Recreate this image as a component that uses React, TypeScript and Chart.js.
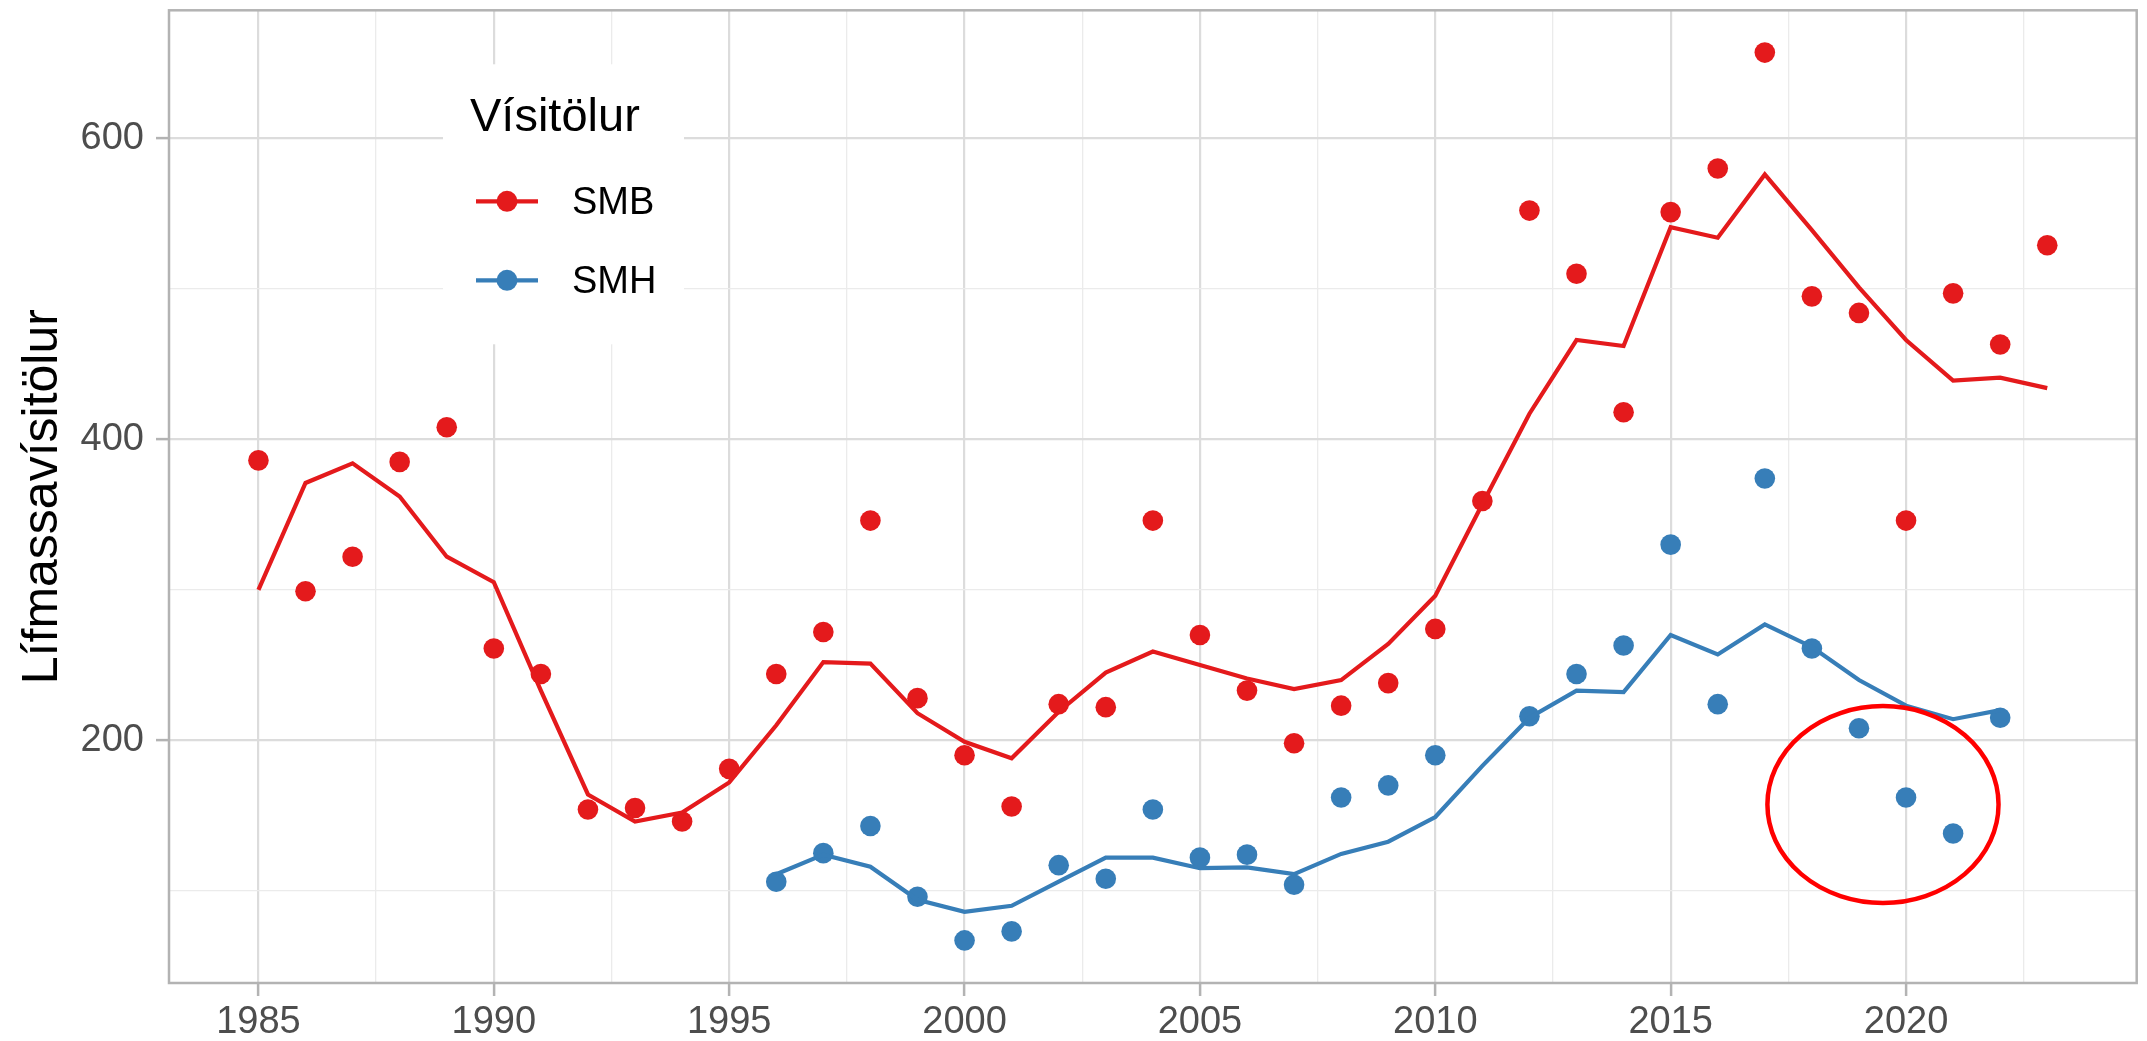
import { useEffect, useRef } from 'react';
import { Chart, registerables } from 'chart.js';

Chart.register(...registerables);

const FONT = '"Liberation Sans", Arial, Helvetica, sans-serif';

const years = [
  1985, 1986, 1987, 1988, 1989, 1990, 1991, 1992, 1993, 1994,
  1995, 1996, 1997, 1998, 1999, 2000, 2001, 2002, 2003, 2004,
  2005, 2006, 2007, 2008, 2009, 2010, 2011, 2012, 2013, 2014,
  2015, 2016, 2017, 2018, 2019, 2020, 2021, 2022, 2023,
];

// SMB index (points)
const smbPoints = [
  386, 299, 322, 385, 408, 261, 244, 154, 155, 146,
  181, 244, 272, 346, 228, 190, 156, 224, 222, 346,
  270, 233, 198, 223, 238, 274, 359, 552, 510, 418,
  551, 580, 657, 495, 484, 346, 497, 463, 529,
];

// SMB model line
const smbLine = [
  300, 371, 384, 362, 322, 305, 233, 164, 146, 152,
  172, 210, 252, 251, 218, 199, 188, 219, 245, 259,
  250, 241, 234, 240, 264, 296, 357, 417, 466, 462,
  541, 534, 576, 539, 501, 466, 439, 441, 434,
];

// SMH index (points)
const smhPoints = [
  null, null, null, null, null, null, null, null, null, null,
  null, 106, 125, 143, 96, 67, 73, 117, 108, 154,
  122, 124, 104, 162, 170, 190, null, 216, 244, 263,
  330, 224, 374, 261, 208, 162, 138, 215, null,
];

// SMH model line
const smhLine = [
  null, null, null, null, null, null, null, null, null, null,
  null, 111, 124, 116, 94, 86, 90, 106, 122, 122,
  115, 115.5, 111, 124.5, 132.6, 149, 183, 215, 233, 232,
  270, 257, 277, 262, 240, 223, 214, 220, null,
];

const xGridTicks = [
  1985, 1987.5, 1990, 1992.5, 1995, 1997.5, 2000, 2002.5, 2005, 2007.5,
  2010, 2012.5, 2015, 2017.5, 2020, 2022.5,
];
const yGridTicks = [100, 200, 300, 400, 500, 600];

const seriesNames = ['SMB', 'SMH'];
const seriesColors = ['#E41A1C', '#377EB8'];
const legendTitle = 'Vísitölur';
const yTitle = 'Lífmassavísitölur';

// highlight ellipse (data coordinates)
const ringCenter = { x: 2019.51, y: 157.3 };
const ringRadius = { x: 2.455, y: 65.4 };

const toXY = (arr: (number | null)[]) =>
  years
    .map((x, i) => ({ x, y: arr[i] }))
    .filter((p) => p.y !== null) as { x: number; y: number }[];

const overlayPlugin = {
  id: 'overlay',
  afterDraw(chart: any) {
    const { ctx, chartArea: a, scales } = chart;
    const xs = scales.x;
    const ys = scales.y;
    ctx.save();

    // highlight ellipse
    const cx = xs.getPixelForValue(ringCenter.x);
    const cy = ys.getPixelForValue(ringCenter.y);
    const rx = Math.abs(xs.getPixelForValue(ringCenter.x + ringRadius.x) - cx);
    const ry = Math.abs(ys.getPixelForValue(ringCenter.y + ringRadius.y) - cy);
    ctx.beginPath();
    ctx.ellipse(cx, cy, rx, ry, 0, 0, Math.PI * 2);
    ctx.strokeStyle = '#FF0000';
    ctx.lineWidth = 4.5;
    ctx.stroke();

    // panel border
    ctx.strokeStyle = '#B3B3B3';
    ctx.lineWidth = 2.5;
    ctx.strokeRect(a.left, a.top, a.right - a.left, a.bottom - a.top);

    // legend
    const lx = a.left + 274;
    const ly = a.top + 54;
    ctx.fillStyle = '#FFFFFF';
    ctx.fillRect(lx, ly, 241, 280);
    ctx.fillStyle = '#000000';
    ctx.textAlign = 'left';
    ctx.textBaseline = 'alphabetic';
    ctx.font = `47px ${FONT}`;
    ctx.fillText(legendTitle, lx + 27, ly + 67);
    seriesNames.forEach((name, i) => {
      const ky = ly + 137 + i * 79;
      ctx.strokeStyle = seriesColors[i];
      ctx.lineWidth = 4.2;
      ctx.beginPath();
      ctx.moveTo(lx + 33, ky);
      ctx.lineTo(lx + 95, ky);
      ctx.stroke();
      ctx.fillStyle = seriesColors[i];
      ctx.beginPath();
      ctx.arc(lx + 64, ky, 10.5, 0, Math.PI * 2);
      ctx.fill();
      ctx.fillStyle = '#000000';
      ctx.font = `38px ${FONT}`;
      ctx.fillText(name, lx + 129, ky + 13);
    });

    // y-axis title
    ctx.translate(57, (a.top + a.bottom) / 2);
    ctx.rotate(-Math.PI / 2);
    ctx.textAlign = 'center';
    ctx.font = `50px ${FONT}`;
    ctx.fillStyle = '#000000';
    ctx.fillText(yTitle, 0, 0);
    ctx.restore();
  },
};

export default function App() {
  const ref = useRef<HTMLCanvasElement>(null);
  useEffect(() => {
    const isMajorX = (v: number) => v % 5 === 0;
    const isMajorY = (v: number) => v % 200 === 0;
    const chart = new Chart(ref.current as HTMLCanvasElement, {
      type: 'scatter',
      data: {
        datasets: [
          {
            label: 'SMB line',
            data: toXY(smbLine),
            showLine: true,
            borderColor: seriesColors[0],
            borderWidth: 4.2,
            pointRadius: 0,
            fill: false,
          },
          {
            label: 'SMH line',
            data: toXY(smhLine),
            showLine: true,
            borderColor: seriesColors[1],
            borderWidth: 4.2,
            pointRadius: 0,
            fill: false,
          },
          {
            label: 'SMB',
            data: toXY(smbPoints),
            showLine: false,
            pointRadius: 10.3,
            pointBorderWidth: 0,
            backgroundColor: seriesColors[0],
            borderColor: seriesColors[0],
          },
          {
            label: 'SMH',
            data: toXY(smhPoints),
            showLine: false,
            pointRadius: 10.3,
            pointBorderWidth: 0,
            backgroundColor: seriesColors[1],
            borderColor: seriesColors[1],
          },
        ],
      },
      options: {
        responsive: false,
        animation: false,
        devicePixelRatio: 1,
        layout: { padding: { top: 9, right: 2, left: 0, bottom: 0 } },
        plugins: {
          legend: { display: false },
          tooltip: { enabled: false },
        },
        scales: {
          x: {
            type: 'linear',
            min: 1983.1,
            max: 2024.9,
            afterBuildTicks: (s: any) => {
              s.ticks = xGridTicks.map((v) => ({ value: v }));
            },
            afterFit: (s: any) => {
              s.height = 58;
              s.paddingLeft = 0;
              s.paddingRight = 0;
              s.paddingTop = 0;
              s.paddingBottom = 0;
            },
            border: { display: false },
            grid: {
              color: (c: any) => (c.tick && isMajorX(c.tick.value) ? '#DCDCDC' : '#EBEBEB'),
              lineWidth: (c: any) => (c.tick && isMajorX(c.tick.value) ? 2.2 : 1.3),
              tickLength: 13,
              tickColor: (c: any) => (c.tick && isMajorX(c.tick.value) ? '#B3B3B3' : 'rgba(0,0,0,0)'),
              tickWidth: 2.5,
            },
            ticks: {
              autoSkip: false,
              maxRotation: 0,
              minRotation: 0,
              padding: 4,
              color: '#4D4D4D',
              font: { size: 38, family: FONT },
              callback: (v: any) => (isMajorX(Number(v)) ? String(v) : ''),
            },
          },
          y: {
            type: 'linear',
            min: 38.7,
            max: 685.1,
            afterBuildTicks: (s: any) => {
              s.ticks = yGridTicks.map((v) => ({ value: v }));
            },
            afterFit: (s: any) => {
              s.width = 169;
              s.paddingLeft = 0;
              s.paddingRight = 0;
              s.paddingTop = 0;
              s.paddingBottom = 0;
            },
            border: { display: false },
            grid: {
              color: (c: any) => (c.tick && isMajorY(c.tick.value) ? '#DCDCDC' : '#EBEBEB'),
              lineWidth: (c: any) => (c.tick && isMajorY(c.tick.value) ? 2.2 : 1.3),
              tickLength: 13,
              tickColor: (c: any) => (c.tick && isMajorY(c.tick.value) ? '#B3B3B3' : 'rgba(0,0,0,0)'),
              tickWidth: 2.5,
            },
            ticks: {
              autoSkip: false,
              padding: 12,
              color: '#4D4D4D',
              font: { size: 38, family: FONT },
              callback: (v: any) => (isMajorY(Number(v)) ? String(v) : ''),
            },
          },
        },
      },
      plugins: [overlayPlugin],
    } as any);
    return () => chart.destroy();
  }, []);

  return (
    <div
      style={{
        position: 'fixed',
        left: 0,
        top: 0,
        width: 2147,
        height: 1041,
        background: '#FFFFFF',
      }}
    >
      <canvas ref={ref} width={2147} height={1041} style={{ display: 'block' }} />
    </div>
  );
}
